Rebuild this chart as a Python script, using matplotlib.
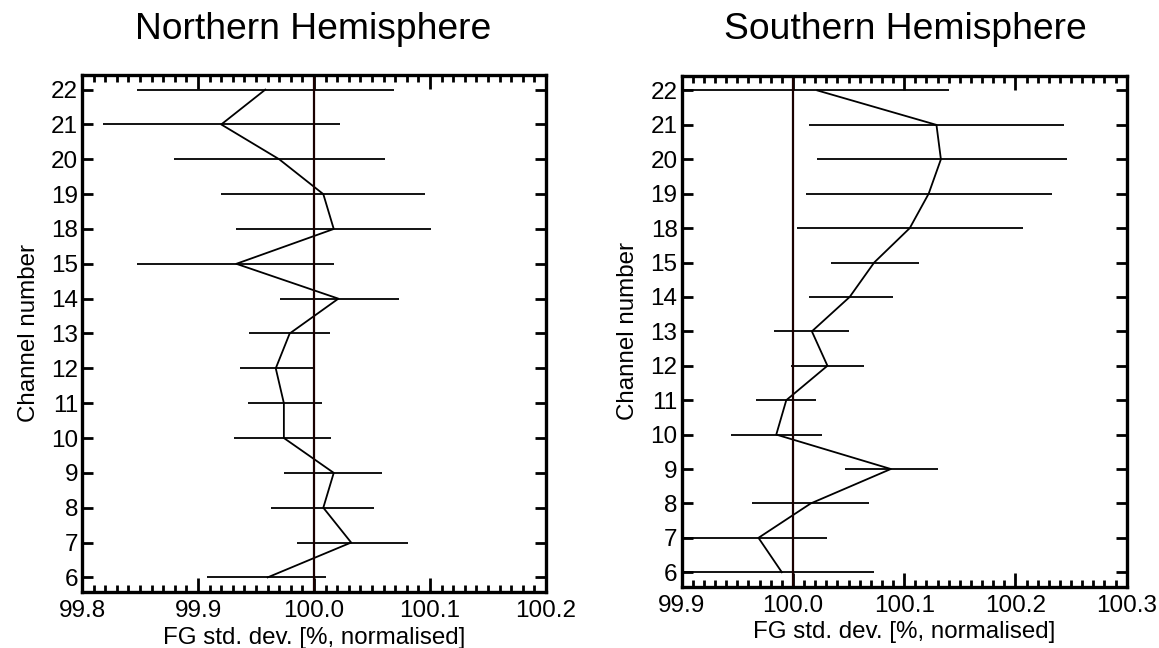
import matplotlib
matplotlib.use("Agg")
import matplotlib.pyplot as plt
import numpy as np
from matplotlib.ticker import MultipleLocator

plt.rcParams['font.family'] = ['Liberation Sans', 'DejaVu Sans']

# channel numbers, bottom to top
channels = ["6", "7", "8", "9", "10", "11", "12", "13", "14", "15", "18", "19", "20", "21", "22"]

# Northern Hemisphere: mean and error-bar ends
nh_mean = [99.960, 100.032, 100.008, 100.017, 99.974, 99.974, 99.967, 99.979,
           100.021, 99.933, 100.017, 100.008, 99.970, 99.920, 99.958]
nh_lo = [99.908, 99.985, 99.963, 99.974, 99.931, 99.943, 99.936, 99.944,
         99.971, 99.847, 99.933, 99.920, 99.879, 99.818, 99.847]
nh_hi = [100.010, 100.081, 100.052, 100.059, 100.015, 100.007, 100.000, 100.014,
         100.073, 100.017, 100.101, 100.096, 100.061, 100.022, 100.069]

# Southern Hemisphere
sh_mean = [99.990, 99.969, 100.016, 100.088, 99.985, 99.994, 100.031, 100.017,
           100.051, 100.073, 100.105, 100.122, 100.133, 100.129, 100.022]
sh_lo = [99.89, 99.89, 99.963, 100.047, 99.944, 99.967, 99.998, 99.983,
         100.014, 100.034, 100.004, 100.012, 100.022, 100.014, 99.89]
sh_hi = [100.073, 100.031, 100.068, 100.130, 100.026, 100.021, 100.064, 100.050,
         100.090, 100.113, 100.207, 100.233, 100.246, 100.244, 100.140]

xlim_nh = (99.8, 100.2)
xlim_sh = (99.9, 100.3)
xticks_nh = [99.8, 99.9, 100.0, 100.1, 100.2]
xticks_sh = [99.9, 100.0, 100.1, 100.2, 100.3]


def draw_panel(ax, mean, lo, hi, xlim, xticks, title, title_x):
    y = np.arange(len(channels))
    ax.hlines(y, lo, hi, color='black', lw=1.3)
    ax.plot(mean, y, color='black', lw=1.3)
    ax.axvline(100.0, color='#1a0000', lw=1.6)
    ax.set_xlim(*xlim)
    ax.set_ylim(-0.42, len(channels) - 1 + 0.42)
    ax.set_xticks(xticks)
    ax.set_xticklabels([f"{v:.1f}" for v in xticks])
    ax.xaxis.set_minor_locator(MultipleLocator(0.01))
    ax.set_yticks(y)
    ax.set_yticklabels(channels)
    ax.tick_params(axis='x', which='major', direction='in', top=True, bottom=True,
                   length=10, width=2, labelsize=17.5, pad=6)
    ax.tick_params(axis='x', which='minor', direction='in', top=True, bottom=True,
                   length=5, width=2)
    ax.tick_params(axis='y', which='major', direction='in', left=True, right=True,
                   length=8, width=2, labelsize=17.5, pad=3)
    for s in ax.spines.values():
        s.set_linewidth(2.4)
    ax.set_xlabel("FG std. dev. [%, normalised]", fontsize=17.4, labelpad=3)
    ax.set_ylabel("Channel number", fontsize=17.4, labelpad=8)
    ax.figure.text(title_x, 0.955, title, ha='center', va='center', fontsize=26.8)


fig = plt.figure(figsize=(11.59, 6.48), dpi=100)
ax1 = fig.add_axes([0.0708, 0.0864, 0.4003, 0.7979])
ax2 = fig.add_axes([0.5882, 0.0946, 0.3839, 0.7881])

draw_panel(ax1, nh_mean, nh_lo, nh_hi, xlim_nh, xticks_nh, "Northern Hemisphere", 0.270)
draw_panel(ax2, sh_mean, sh_lo, sh_hi, xlim_sh, xticks_sh, "Southern Hemisphere", 0.781)

fig.savefig("out.png", dpi=100)
